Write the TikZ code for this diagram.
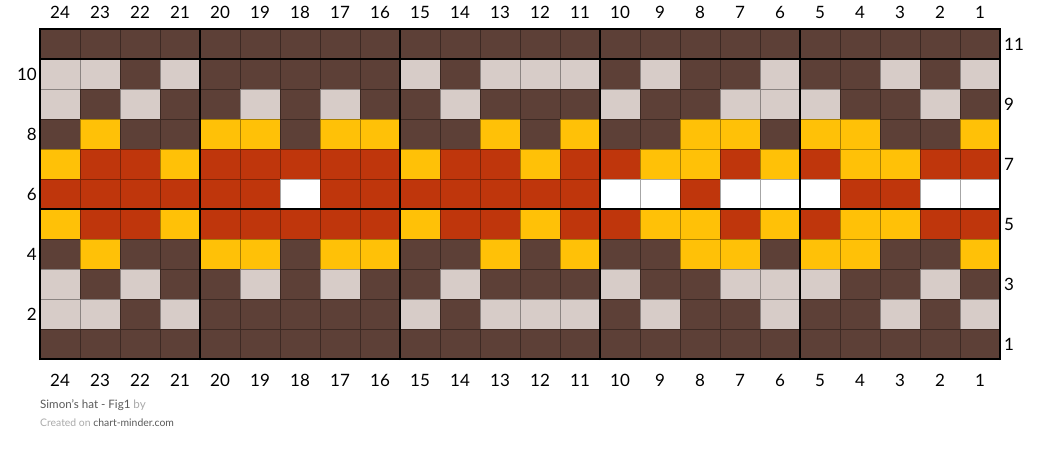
\documentclass[tikz,border=0pt]{standalone}
\usepackage{fontspec}
\setmainfont{Lato}
\definecolor{cB}{HTML}{5D4037}
\definecolor{cL}{HTML}{D7CCC8}
\definecolor{cY}{HTML}{FFC107}
\definecolor{cR}{HTML}{BF360C}
\definecolor{cW}{HTML}{FFFFFF}
\definecolor{footdark}{HTML}{5A5A5A}
\definecolor{footlight}{HTML}{AAAAAA}
\tikzset{
  num/.style={font=\fontsize{17}{17}\selectfont, inner sep=0pt, text=black},
  thinline/.style={draw=black, draw opacity=0.35, line width=0.8pt},
  thickline/.style={draw=black, line width=2pt},
  foot/.style={anchor=west, inner sep=0pt}
}
\begin{document}
\begin{tikzpicture}[x=1pt,y=1pt]
\useasboundingbox[fill=white] (0,0) rectangle (1040,453);
\foreach \rw [count=\r] in {
 {B,B,B,B,B,B,B,B,B,B,B,B,B,B,B,B,B,B,B,B,B,B,B,B},
 {L,L,B,L,B,B,B,B,B,L,B,L,L,L,B,L,B,B,L,B,B,L,B,L},
 {L,B,L,B,B,L,B,L,B,B,L,B,B,B,L,B,B,L,L,L,B,B,L,B},
 {B,Y,B,B,Y,Y,B,Y,Y,B,B,Y,B,Y,B,B,Y,Y,B,Y,Y,B,B,Y},
 {Y,R,R,Y,R,R,R,R,R,Y,R,R,Y,R,R,Y,Y,R,Y,R,Y,Y,R,R},
 {R,R,R,R,R,R,W,R,R,R,R,R,R,R,W,W,R,W,W,W,R,R,W,W},
 {Y,R,R,Y,R,R,R,R,R,Y,R,R,Y,R,R,Y,Y,R,Y,R,Y,Y,R,R},
 {B,Y,B,B,Y,Y,B,Y,Y,B,B,Y,B,Y,B,B,Y,Y,B,Y,Y,B,B,Y},
 {L,B,L,B,B,L,B,L,B,B,L,B,B,B,L,B,B,L,L,L,B,B,L,B},
 {L,L,B,L,B,B,B,B,B,L,B,L,L,L,B,L,B,B,L,B,B,L,B,L},
 {B,B,B,B,B,B,B,B,B,B,B,B,B,B,B,B,B,B,B,B,B,B,B,B}}{
  \foreach \colr [count=\i] in \rw {
    \fill[fill=c\colr] ({40+(\i-1)*40},{94+(\r-1)*30}) rectangle +(40,30);
  }
}
% thin cell borders
\draw[thinline, shift={(40,94)}] (0,0) grid[xstep=40,ystep=30] (960,330);
% thick block lines
\foreach \xx in {40,200,400,600,800,1000}{
  \draw[thickline] (\xx,93) -- (\xx,425);
}
\foreach \yy in {94,244,394,424}{
  \draw[thickline] (39,\yy) -- (1001,\yy);
}
% column numbers
\foreach \n in {1,...,24}{
  \node[num] (top\n) at ({40+(24-\n)*40+20},441) {\n};
  \node[num] (bot\n) at ({40+(24-\n)*40+20},73) {\n};
}
% row numbers
\foreach \n in {2,4,6,8,10}{
  \node[num, anchor=east] (left\n) at (37,{94+(\n-1)*30+15}) {\n};
}
\foreach \n in {1,3,5,7,9,11}{
  \node[num, anchor=west] (right\n) at (1004,{94+(\n-1)*30+15}) {\n};
}
% footer
\node[foot, font=\fontsize{11.6}{11.6}\selectfont, text=footdark] (title) at (40,48) {Simon's hat - Fig1 \textcolor{footlight}{by}};
\node[foot, font=\fontsize{10.4}{10.4}\selectfont, text=footlight] (credit) at (40,30) {Created on \textcolor{footdark}{chart-minder.com}};
\end{tikzpicture}
\end{document}
